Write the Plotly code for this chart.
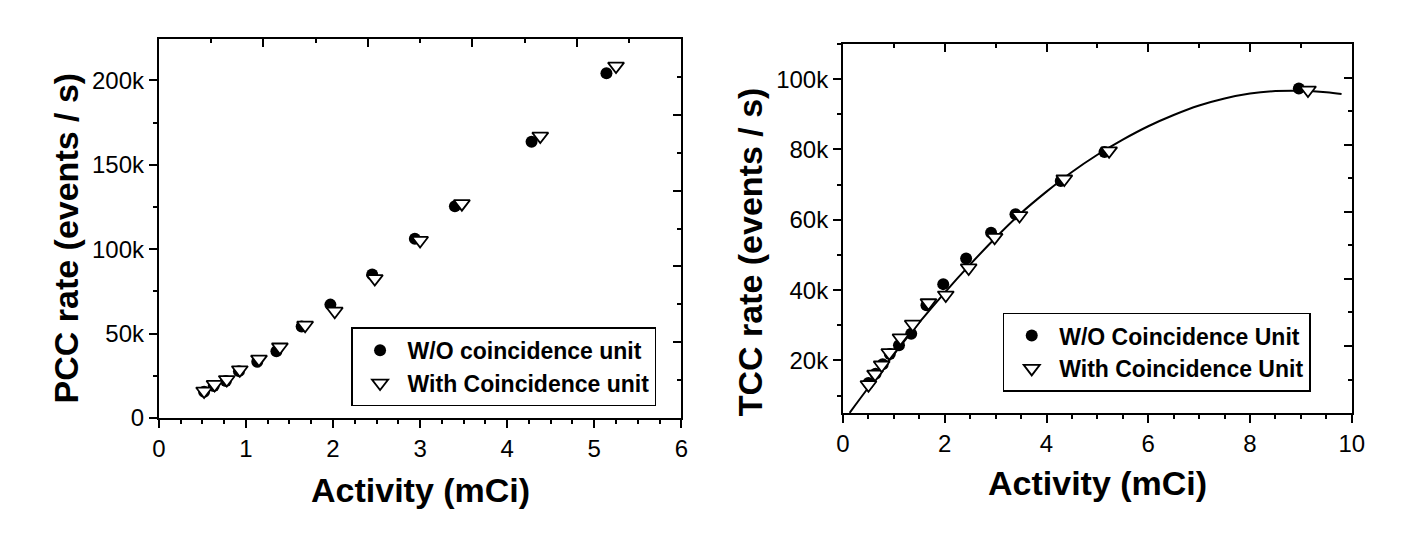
import plotly.graph_objects as go

# ---------------- data ----------------
# Left panel: PCC rate
pcc_wo_x = [0.52, 0.63, 0.77, 0.92, 1.13, 1.35, 1.64, 1.97, 2.45, 2.94, 3.40, 4.28, 5.14]
pcc_wo_y = [15600, 19000, 22000, 27800, 33400, 39600, 54200, 67200, 85100, 106200, 125500, 163700, 204200]
pcc_with_x = [0.52, 0.64, 0.78, 0.93, 1.15, 1.39, 1.68, 2.02, 2.48, 3.00, 3.48, 4.38, 5.25]
pcc_with_y = [16000, 19900, 22800, 28600, 34900, 42100, 55000, 63300, 82600, 105200, 127000, 167000, 208500]

# Right panel: TCC rate
tcc_wo_x = [0.50, 0.64, 0.78, 0.92, 1.10, 1.34, 1.64, 1.97, 2.42, 2.91, 3.39, 4.28, 5.14, 8.96]
tcc_wo_y = [13600, 16200, 18900, 21800, 24300, 27600, 35700, 41700, 49000, 56300, 61600, 71000, 79300, 97300]
tcc_with_x = [0.50, 0.63, 0.76, 0.91, 1.13, 1.37, 1.68, 2.02, 2.47, 2.98, 3.47, 4.35, 5.23, 9.14]
tcc_with_y = [13100, 16100, 18700, 22200, 26400, 30300, 36400, 38600, 46300, 55000, 61200, 71600, 79600, 96900]

# Fit curve (right panel)
fit_x = [0.13, 0.5, 1.0, 1.5, 2.0, 2.5, 3.0, 3.5, 4.0, 4.5, 5.0, 5.5, 6.0, 6.5, 7.0, 7.5, 8.0, 8.5, 9.0, 9.5, 9.8]
fit_y = [5100, 12300, 21700, 30800, 39300, 47300, 54900, 61900, 68000, 73600, 78500, 82800, 86600, 89800, 92500, 94500, 95900, 96600, 96700, 96300, 95800]

# Tick labels
pcc_tickvals = [0, 50000, 100000, 150000, 200000]
pcc_ticktext = ["0", "50k", "100k", "150k", "200k"]
tcc_tickvals = [20000, 40000, 60000, 80000, 100000]
tcc_ticktext = ["20k", "40k", "60k", "80k", "100k"]

legend_left = ["W/O coincidence unit", "With Coincidence unit"]
legend_right = ["W/O Coincidence Unit", "With Coincidence Unit"]

FONT = "Liberation Sans, Arial, sans-serif"
W, H = 1416, 560

# ---------------- figure ----------------
fig = go.Figure()

circle = dict(symbol="circle", size=12, color="black")
tri = dict(symbol="triangle-down", size=14, color="white", line=dict(color="black", width=1.8))

fig.add_trace(go.Scatter(x=pcc_wo_x, y=pcc_wo_y, mode="markers", marker=circle,
                         name=legend_left[0], xaxis="x", yaxis="y", legend="legend"))
fig.add_trace(go.Scatter(x=pcc_with_x, y=pcc_with_y, mode="markers", marker=tri,
                         name=legend_left[1], xaxis="x", yaxis="y", legend="legend"))

fig.add_trace(go.Scatter(x=fit_x, y=fit_y, mode="lines", line=dict(color="black", width=2, shape="spline"),
                         showlegend=False, xaxis="x2", yaxis="y2"))
fig.add_trace(go.Scatter(x=tcc_wo_x, y=tcc_wo_y, mode="markers", marker=circle,
                         name=legend_right[0], xaxis="x2", yaxis="y2", legend="legend2"))
fig.add_trace(go.Scatter(x=tcc_with_x, y=tcc_with_y, mode="markers", marker=tri,
                         name=legend_right[1], xaxis="x2", yaxis="y2", legend="legend2"))

# empty traces so the decorative top/right tick axes exist
fig.add_trace(go.Scatter(x=[], y=[], xaxis="x3", yaxis="y3", showlegend=False, hoverinfo="skip"))
fig.add_trace(go.Scatter(x=[], y=[], xaxis="x4", yaxis="y4", showlegend=False, hoverinfo="skip"))

# plot areas in pixels
L = dict(x0=154, x1=684, y0=40, y1=428)
R = dict(x0=848, x1=1364, y0=45, y1=423)

def xdom(p):
    return [p["x0"] / W, p["x1"] / W]

def ydom(p):
    return [1 - p["y1"] / H, 1 - p["y0"] / H]

tickfont = dict(family=FONT, size=24, color="black")

main_ax = dict(showline=True, linewidth=2, linecolor="black", mirror=True,
               ticks="outside", ticklen=8, tickwidth=2, tickcolor="black",
               showgrid=False, zeroline=False, tickfont=tickfont)

deco_ax = dict(showline=False, showgrid=False, zeroline=False, showticklabels=False,
               tickmode="linear", tick0=0, dtick=1, ticks="inside", ticklen=8,
               tickwidth=2, tickcolor="black",
               minor=dict(tick0=0, dtick=0.5, ticks="inside", ticklen=4, tickwidth=2, tickcolor="black"))

legend_font = dict(family=FONT, size=23, color="black", weight="bold")

fig.update_layout(
    width=W, height=H,
    margin=dict(l=0, r=0, t=0, b=0),
    paper_bgcolor="white", plot_bgcolor="white",
    font=dict(family=FONT, color="black"),
    xaxis=dict(domain=xdom(L), anchor="y", range=[0, 6], tickmode="linear", tick0=0, dtick=1,
               minor=dict(tick0=0, dtick=0.25, ticks="outside", ticklen=4, tickwidth=2, tickcolor="black"),
               **main_ax),
    yaxis=dict(domain=ydom(L), anchor="x", range=[0, 224500], tickvals=pcc_tickvals, ticktext=pcc_ticktext,
               minor=dict(tick0=0, dtick=25000, ticks="outside", ticklen=4, tickwidth=2, tickcolor="black"),
               **main_ax),
    xaxis2=dict(domain=xdom(R), anchor="y2", range=[0, 10], tickmode="linear", tick0=0, dtick=2,
                minor=dict(tick0=0, dtick=0.5, ticks="outside", ticklen=4, tickwidth=2, tickcolor="black"),
                **main_ax),
    yaxis2=dict(domain=ydom(R), anchor="x2", range=[5000, 110000], tickvals=tcc_tickvals, ticktext=tcc_ticktext,
                minor=dict(tick0=0, dtick=10000, ticks="outside", ticklen=4, tickwidth=2, tickcolor="black"),
                **main_ax),
    xaxis3=dict(overlaying="x", side="top", anchor="y", range=[0, 5], **deco_ax),
    yaxis3=dict(overlaying="y", side="right", anchor="x", range=[0, 5], **deco_ax),
    xaxis4=dict(overlaying="x2", side="top", anchor="y2", range=[0, 5], **deco_ax),
    yaxis4=dict(overlaying="y2", side="right", anchor="x2", range=[0, 5.5], **deco_ax),
    legend=dict(x=349 / W, y=1 - 335 / H, xanchor="left", yanchor="top",
                bgcolor="white", bordercolor="black", borderwidth=1.5,
                font=legend_font, tracegroupgap=0, itemwidth=45),
    legend2=dict(x=1010 / W, y=1 - 320 / H, xanchor="left", yanchor="top",
                 bgcolor="white", bordercolor="black", borderwidth=1.5,
                 font=legend_font, tracegroupgap=0, itemwidth=45),
    showlegend=True,
)

title_font = dict(family=FONT, size=34, color="black", weight="bold")
fig.add_annotation(text="Activity (mCi)", x=(L["x0"] + L["x1"]) / 2 / W, y=1 - 502 / H,
                   xref="paper", yref="paper", showarrow=False, font=title_font,
                   xanchor="center", yanchor="middle")
fig.add_annotation(text="Activity (mCi)", x=(R["x0"] + R["x1"]) / 2 / W, y=1 - 494 / H,
                   xref="paper", yref="paper", showarrow=False, font=title_font,
                   xanchor="center", yanchor="middle")
fig.add_annotation(text="PCC rate (events / s)", x=60 / W, y=1 - 244 / H, textangle=-90,
                   xref="paper", yref="paper", showarrow=False, font=title_font,
                   xanchor="center", yanchor="middle")
fig.add_annotation(text="TCC rate (events / s)", x=754 / W, y=1 - 258 / H, textangle=-90,
                   xref="paper", yref="paper", showarrow=False, font=title_font,
                   xanchor="center", yanchor="middle")

fig.write_html("out.html")
